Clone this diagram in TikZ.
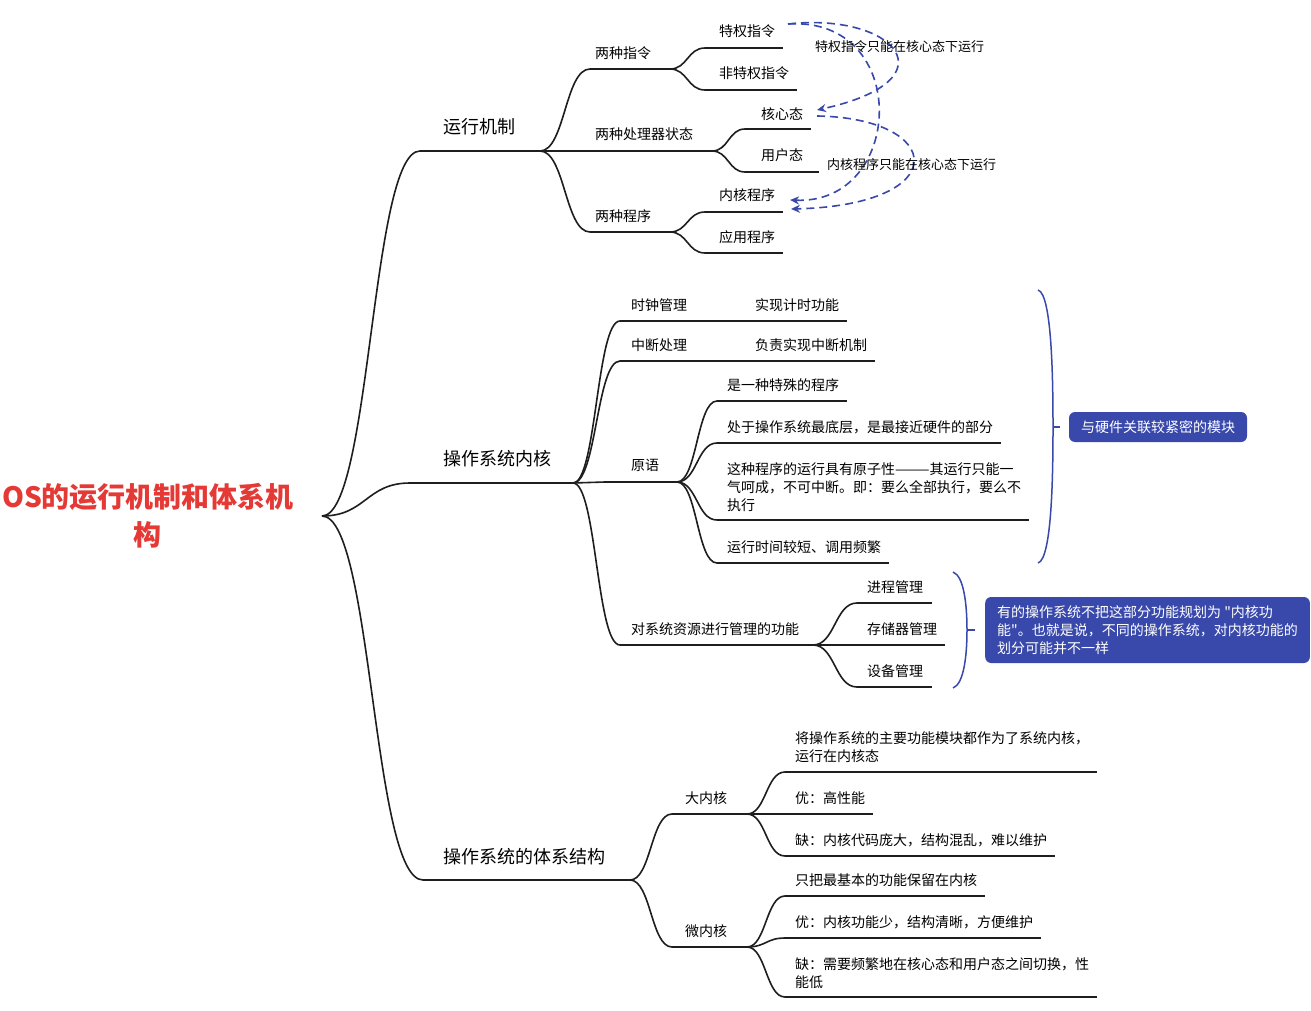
\documentclass[tikz,border=0pt]{standalone}
\usepackage{fontspec}
\setmainfont{Noto Sans CJK SC}[Ligatures=TeXOff]
\usetikzlibrary{calc,arrows.meta}
\definecolor{linec}{HTML}{1E1E1E}
\definecolor{bluec}{HTML}{3949AB}
\definecolor{redc}{HTML}{E53935}
\tikzset{
  txt/.style={anchor=west, inner sep=0pt, font=\fontsize{14}{18}\selectfont, align=left},
  bigtxt/.style={anchor=west, inner sep=0pt, font=\fontsize{18}{22}\selectfont},
  ul/.style={draw=linec, line width=1.7pt},
  br/.style={draw=linec, line width=1.6pt, to path={let \p1=(\tikztostart), \p2=(\tikztotarget) in .. controls ({(\x1+\x2)/2},\y1) and ({(\x1+\x2)/2},\y2) .. (\tikztotarget)}},
  rel/.style={draw=bluec, line width=1.6pt, dash pattern=on 8pt off 5pt, -{Stealth[length=9pt,width=8pt]}},
  rellabel/.style={anchor=west, inner sep=0pt, font=\fontsize{13}{16}\selectfont},
  brace/.style={draw=bluec, line width=1.5pt},
  note/.style={fill=bluec, rounded corners=6pt, text=white, font=\fontsize{14}{18}\selectfont, align=left}
}
\begin{document}
\begin{tikzpicture}[x=1pt,y=-1pt]
\useasboundingbox[fill=white] (0,0) rectangle (1311,1011);

% ---------- coordinates ----------
\coordinate (R) at (322,516);
\coordinate (As) at (420,151); \coordinate (Ae) at (540,151);
\coordinate (Bs) at (410,483); \coordinate (Be) at (573,483);
\coordinate (Cs) at (423,880); \coordinate (Ce) at (630,880);

\coordinate (A1s) at (590,69);  \coordinate (A1e) at (670,69);
\coordinate (A2s) at (575,151); \coordinate (A2e) at (712,151);
\coordinate (A3s) at (590,232); \coordinate (A3e) at (670,232);
\coordinate (A11s) at (705,48);  \coordinate (A11e) at (783,48);
\coordinate (A12s) at (705,90);  \coordinate (A12e) at (797,90);
\coordinate (A21s) at (745,129); \coordinate (A21e) at (811,129);
\coordinate (A22s) at (745,172); \coordinate (A22e) at (819,172);
\coordinate (A31s) at (705,212); \coordinate (A31e) at (783,212);
\coordinate (A32s) at (705,253); \coordinate (A32e) at (783,253);

\coordinate (B1s) at (620,321); \coordinate (B1e) at (847,321);
\coordinate (B2s) at (620,361); \coordinate (B2e) at (875,361);
\coordinate (B3s) at (605,482); \coordinate (B3e) at (677,482);
\coordinate (B4s) at (620,645); \coordinate (B4e) at (813,645);
\coordinate (B31s) at (717,401); \coordinate (B31e) at (847,401);
\coordinate (B32s) at (717,443); \coordinate (B32e) at (1001,443);
\coordinate (B33s) at (717,520); \coordinate (B33e) at (1029,520);
\coordinate (B34s) at (717,563); \coordinate (B34e) at (889,563);
\coordinate (B41s) at (857,603); \coordinate (B41e) at (932,603);
\coordinate (B42s) at (857,645); \coordinate (B42e) at (945,645);
\coordinate (B43s) at (857,687); \coordinate (B43e) at (932,687);

\coordinate (C1s) at (672,814); \coordinate (C1e) at (747,814);
\coordinate (C2s) at (672,947); \coordinate (C2e) at (747,947);
\coordinate (C11s) at (785,772); \coordinate (C11e) at (1097,772);
\coordinate (C12s) at (785,814); \coordinate (C12e) at (873,814);
\coordinate (C13s) at (785,856); \coordinate (C13e) at (1055,856);
\coordinate (C21s) at (785,896); \coordinate (C21e) at (985,896);
\coordinate (C22s) at (785,938); \coordinate (C22e) at (1041,938);
\coordinate (C23s) at (785,997); \coordinate (C23e) at (1097,997);

% ---------- branches ----------
\foreach \p/\c in {R/As,R/Bs,R/Cs,Ae/A1s,Ae/A2s,Ae/A3s,A1e/A11s,A1e/A12s,A2e/A21s,A2e/A22s,A3e/A31s,A3e/A32s,
  Be/B1s,Be/B2s,Be/B3s,Be/B4s,B3e/B31s,B3e/B32s,B3e/B33s,B3e/B34s,B4e/B41s,B4e/B42s,B4e/B43s,
  Ce/C1s,Ce/C2s,C1e/C11s,C1e/C12s,C1e/C13s,C2e/C21s,C2e/C22s,C2e/C23s}
  \draw[br] (\p) to (\c);
\foreach \n in {A,B,C,A1,A2,A3,A11,A12,A21,A22,A31,A32,B1,B2,B3,B4,B31,B32,B33,B34,B41,B42,B43,C1,C2,C11,C12,C13,C21,C22,C23}
  \draw[ul] (\n s) -- (\n e);

% ---------- texts ----------
\node[font=\fontsize{28}{38}\selectfont\bfseries, text=redc, align=center, inner sep=0pt] (root) at (148,516) {OS的运行机制和体系机\\构};
\node[bigtxt] (At) at (443,127) {运行机制};
\node[bigtxt] (Bt) at (443,459) {操作系统内核};
\node[bigtxt] (Ct) at (443,857) {操作系统的体系结构};

\node[txt] (A1t) at (595,53) {两种指令};
\node[txt] (A2t) at (595,134) {两种处理器状态};
\node[txt] (A3t) at (595,216) {两种程序};
\node[txt] (A11t) at (719,31) {特权指令};
\node[txt] (A12t) at (719,73) {非特权指令};
\node[txt] (A21t) at (761,114) {核心态};
\node[txt] (A22t) at (761,155) {用户态};
\node[txt] (A31t) at (719,195) {内核程序};
\node[txt] (A32t) at (719,237) {应用程序};

\node[txt] (B1t) at (631,305) {时钟管理};
\node[txt] (B1ct) at (755,305) {实现计时功能};
\node[txt] (B2t) at (631,345) {中断处理};
\node[txt] (B2ct) at (755,345) {负责实现中断机制};
\node[txt] (B3t) at (631,465) {原语};
\node[txt] (B4t) at (631,629) {对系统资源进行管理的功能};
\node[txt] (B31t) at (727,385) {是一种特殊的程序};
\node[txt] (B32t) at (727,427) {处于操作系统最底层，是最接近硬件的部分};
\node[txt] (B33t) at (727,487) {这种程序的运行具有原子性———其运行只能一\\气呵成，不可中断。即：要么全部执行，要么不\\执行};
\node[txt] (B34t) at (727,547) {运行时间较短、调用频繁};
\node[txt] (B41t) at (867,587) {进程管理};
\node[txt] (B42t) at (867,629) {存储器管理};
\node[txt] (B43t) at (867,671) {设备管理};

\node[txt] (C1t) at (685,798) {大内核};
\node[txt] (C2t) at (685,931) {微内核};
\node[txt] (C11t) at (795,747) {将操作系统的主要功能模块都作为了系统内核，\\运行在内核态};
\node[txt] (C12t) at (795,798) {优：高性能};
\node[txt] (C13t) at (795,840) {缺：内核代码庞大，结构混乱，难以维护};
\node[txt] (C21t) at (795,880) {只把最基本的功能保留在内核};
\node[txt] (C22t) at (795,922) {优：内核功能少，结构清晰，方便维护};
\node[txt] (C23t) at (795,973) {缺：需要频繁地在核心态和用户态之间切换，性\\能低};

% ---------- relationships ----------
\coordinate (r1s) at (788,24);
\coordinate (r1e) at (817,110);
\coordinate (r2e) at (790,200);
\coordinate (r3s) at (817,116);
\coordinate (r3e) at (791,209);
\draw[rel] (r1s) .. controls (895,12) and (955,80) .. (r1e);
\draw[rel] (r1s) .. controls (912,16) and (905,205) .. (r2e);
\draw[rel] (r3s) .. controls (945,118) and (955,205) .. (r3e);
\node[rellabel] (L1) at (815,47) {特权指令只能在核心态下运行};
\node[rellabel] (L2) at (827,165) {内核程序只能在核心态下运行};

% ---------- summaries ----------
\coordinate (b1t) at (1038,290); \coordinate (b1m) at (1053,427); \coordinate (b1b) at (1038,563); \coordinate (b1k) at (1060,427);
\draw[brace] (b1t) .. controls (1052,294) and (1053,380) .. (b1m) .. controls (1053,474) and (1052,559) .. (b1b);
\draw[brace] (b1m) -- (b1k);
\node[note, minimum width=178pt, minimum height=30pt, inner sep=0pt, align=center] (N1) at (1158,427) {与硬件关联较紧密的模块};

\coordinate (b2t) at (953,572); \coordinate (b2m) at (967,630); \coordinate (b2b) at (953,688); \coordinate (b2k) at (975,630);
\draw[brace] (b2t) .. controls (964,576) and (967,605) .. (b2m) .. controls (967,655) and (964,684) .. (b2b);
\draw[brace] (b2m) -- (b2k);
\node[note, anchor=west, minimum height=66pt, inner xsep=12pt, inner ysep=0pt] (N2) at (985,630) {有的操作系统不把这部分功能规划为 "内核功\\能"。也就是说，不同的操作系统，对内核功能的\\划分可能并不一样};
\end{tikzpicture}
\end{document}
